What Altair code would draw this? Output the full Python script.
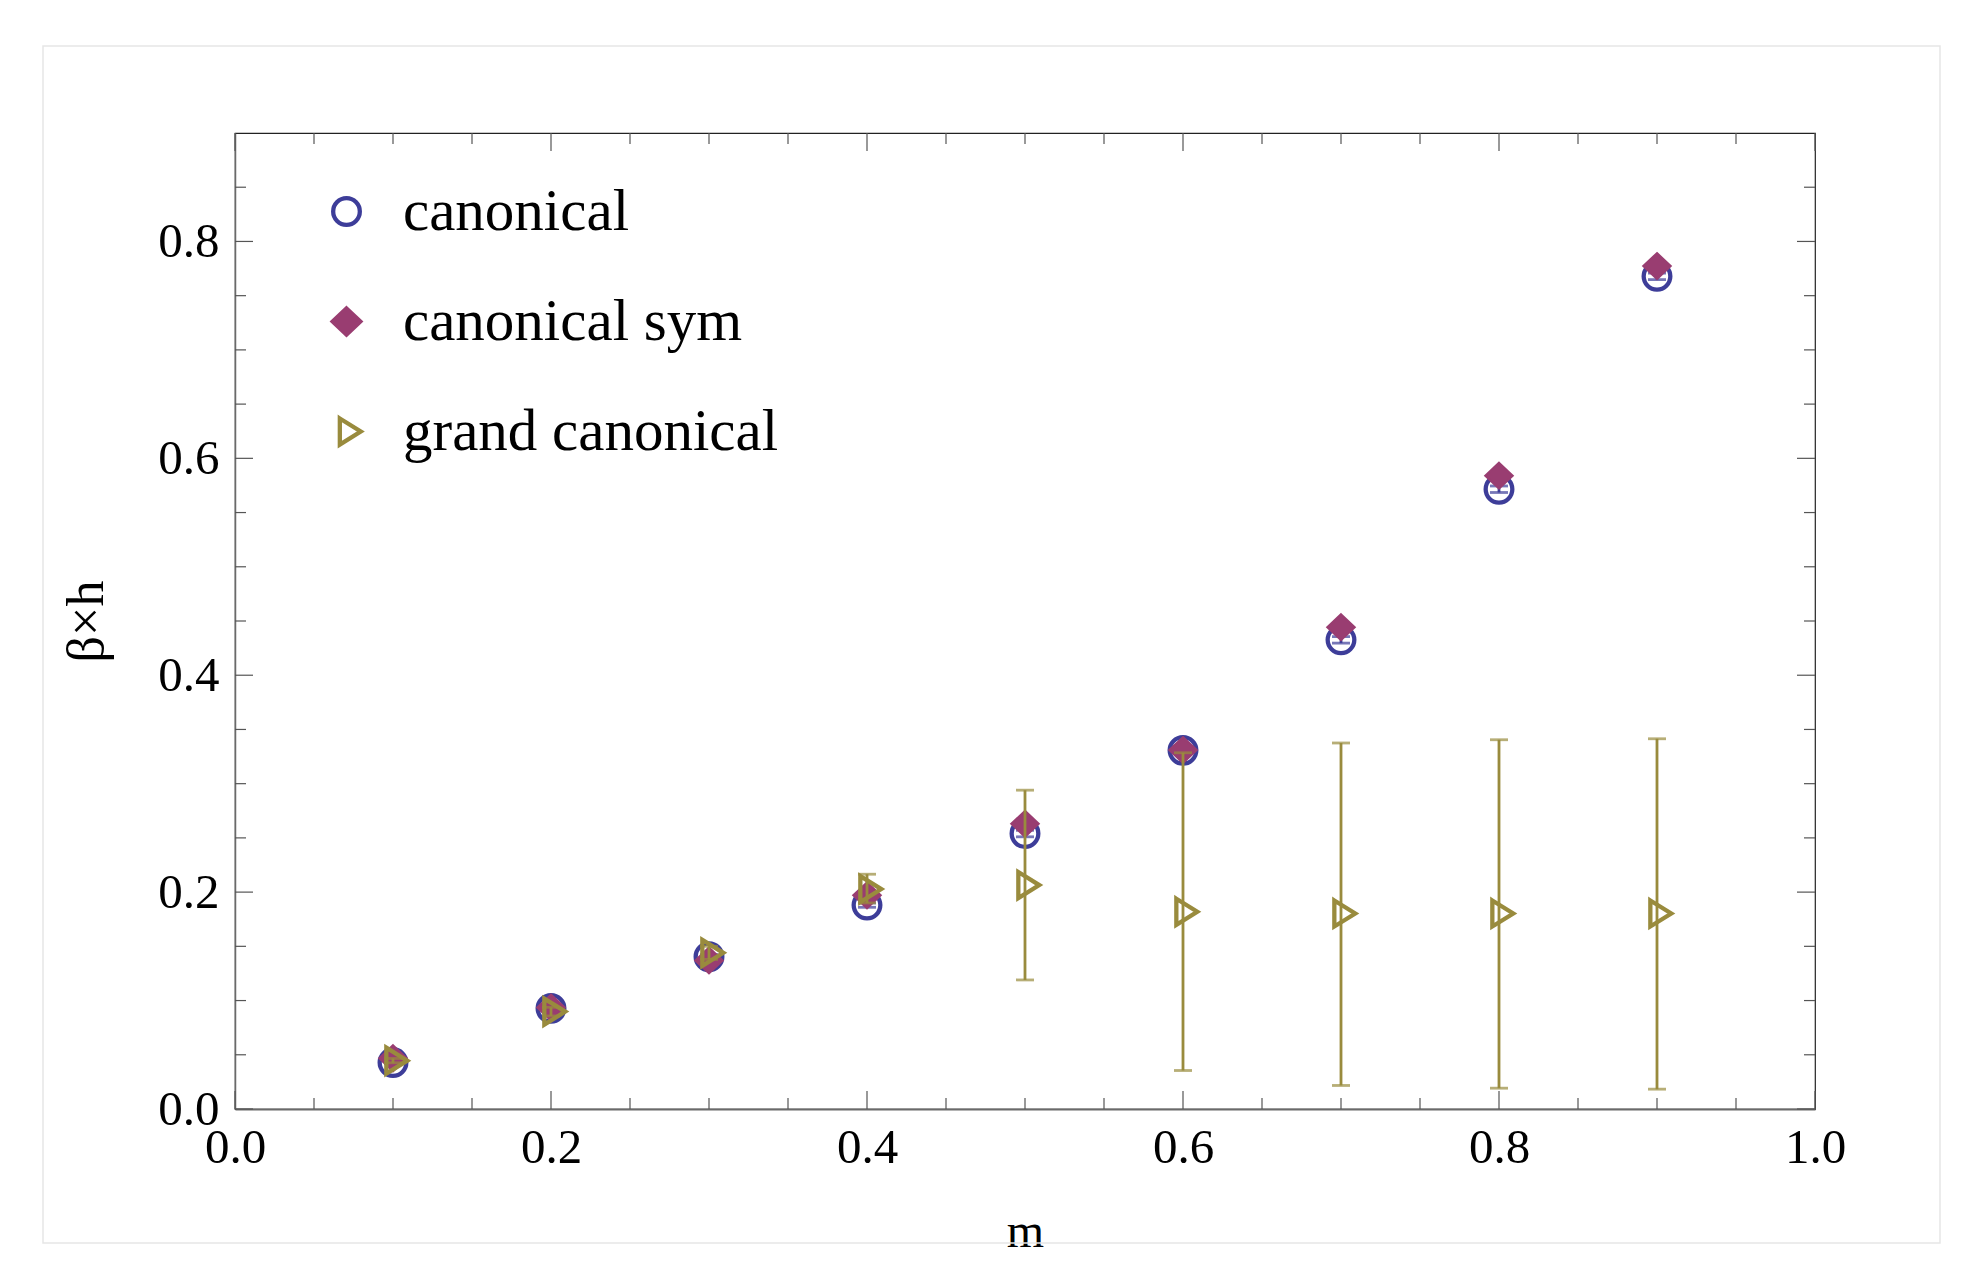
import altair as alt
import pandas as pd

# ---------------- data ----------------
m_vals = [0.1, 0.2, 0.3, 0.4, 0.5, 0.6, 0.7, 0.8, 0.9]
canonical = [0.0428, 0.0928, 0.1404, 0.188, 0.254, 0.3307, 0.4326, 0.5715, 0.7678]
canonical_err = [0.001, 0.002, 0.002, 0.002, 0.003, 0.003, 0.003, 0.003, 0.003]
canonical_sym = [0.0468, 0.0935, 0.137, 0.197, 0.263, 0.331, 0.4443, 0.584, 0.7773]
grand = [0.0446, 0.0898, 0.144, 0.2028, 0.2065, 0.1819, 0.1803, 0.1803, 0.1803]
grand_lo = [0.0426, 0.0858, 0.138, 0.190, 0.119, 0.0355, 0.0217, 0.0192, 0.0183]
grand_hi = [0.0466, 0.0938, 0.150, 0.2165, 0.294, 0.3285, 0.3375, 0.3405, 0.3414]

series_names = ["canonical", "canonical sym", "grand canonical"]
series_colors = ["#3d3d99", "#993d71", "#998b3d"]
series_fills = ["transparent", "#993d71", "transparent"]

x_major = [0.0, 0.2, 0.4, 0.6, 0.8, 1.0]
x_minor = [0.05, 0.1, 0.15, 0.25, 0.3, 0.35, 0.45, 0.5, 0.55, 0.65, 0.7, 0.75, 0.85, 0.9, 0.95]
y_major = [0.0, 0.2, 0.4, 0.6, 0.8]
y_minor = [0.05, 0.1, 0.15, 0.25, 0.3, 0.35, 0.45, 0.5, 0.55, 0.65, 0.7, 0.75, 0.85]

# ---------------- styling ----------------
W, H = 1580, 976
FONT = "Liberation Serif"
TICK = "#555555"
MAJ, MIN = 18, 11
SW = 4.3

circle_path = "M0.86,0A0.86,0.86,0,1,1,-0.86,0A0.86,0.86,0,1,1,0.86,0Z"
diamond_path = "M0,-0.84L0.89,0L0,0.84L-0.89,0Z"
tri_path = "M-0.43,-0.84L0.92,0L-0.43,0.84Z"
series_shapes = [circle_path, diamond_path, tri_path]

xscale = alt.Scale(domain=[0, 1], nice=False, zero=False)
yscale = alt.Scale(domain=[0, 0.9], nice=False, zero=False)

AX = alt.Axis(values=x_major, format=".1f", title="m", ticks=False, tickSize=0,
              grid=False, labelPadding=14, titlePadding=36,
              labelFlush=False, labelOverlap=False,
              domainColor="#6a6a6a", domainWidth=2)
AY = alt.Axis(values=y_major, format=".1f", title="β×h", ticks=False, tickSize=0,
              grid=False, labelPadding=16, titlePadding=44, titleFontSize=52,
              labelFlush=False, labelOverlap=False,
              domainColor="#6a6a6a", domainWidth=1.5)

df_c = pd.DataFrame({"m": m_vals, "v": canonical, "series": series_names[0],
                     "lo": [a - e for a, e in zip(canonical, canonical_err)],
                     "hi": [a + e for a, e in zip(canonical, canonical_err)]})
df_s = pd.DataFrame({"m": m_vals, "v": canonical_sym, "series": series_names[1]})
df_g = pd.DataFrame({"m": m_vals, "v": grand, "series": series_names[2],
                     "lo": grand_lo, "hi": grand_hi})

leg = alt.Legend(title=None)
stroke_enc = alt.Stroke("series:N", scale=alt.Scale(domain=series_names, range=series_colors), legend=leg)
fill_enc = alt.Fill("series:N", scale=alt.Scale(domain=series_names, range=series_fills), legend=leg)
shape_enc = alt.Shape("series:N", scale=alt.Scale(domain=series_names, range=series_shapes), legend=leg)


def xf(field):
    return alt.X(field, type="quantitative", scale=xscale, axis=AX)


def yf(field):
    return alt.Y(field, type="quantitative", scale=yscale, axis=AY)


def pts(df, sw):
    return alt.Chart(df).mark_point(size=961, strokeWidth=sw, opacity=1, fillOpacity=1,
                                    strokeOpacity=1).encode(
        x=xf("m"), y=yf("v"), stroke=stroke_enc, fill=fill_enc, shape=shape_enc)


def errbars(df, color, cap):
    bar = alt.Chart(df).mark_rule(color=color, strokeWidth=2.8).encode(
        x=xf("m"), y=yf("lo"), y2="hi:Q")
    lo = alt.Chart(df).mark_tick(color=color, orient="horizontal", size=cap, thickness=2.8).encode(
        x=xf("m"), y=yf("lo"))
    hi = alt.Chart(df).mark_tick(color=color, orient="horizontal", size=cap, thickness=2.8).encode(
        x=xf("m"), y=yf("hi"))
    return bar + lo + hi


def tick_layers():
    layers = []
    for vals, ln in [(x_major, MAJ), (x_minor, MIN)]:
        d = pd.DataFrame({"t": vals})
        layers.append(alt.Chart(d).mark_rule(color=TICK, strokeWidth=1.2).encode(
            x=xf("t"), y=alt.value(H), y2=alt.value(H - ln)))
        layers.append(alt.Chart(d).mark_rule(color=TICK, strokeWidth=1.2).encode(
            x=xf("t"), y=alt.value(0), y2=alt.value(ln)))
    for vals, ln in [(y_major, MAJ), (y_minor, MIN)]:
        d = pd.DataFrame({"t": vals})
        layers.append(alt.Chart(d).mark_rule(color=TICK, strokeWidth=1.2).encode(
            y=yf("t"), x=alt.value(0), x2=alt.value(ln)))
        layers.append(alt.Chart(d).mark_rule(color=TICK, strokeWidth=1.2).encode(
            y=yf("t"), x=alt.value(W), x2=alt.value(W - ln)))
    return layers


panel = alt.Chart(pd.DataFrame({"a": [0]})).mark_rect(
    fill="white", fillOpacity=0, stroke="#e6e6e6", strokeWidth=1.5).encode(
    x=alt.value(-192), x2=alt.value(1705), y=alt.value(-87), y2=alt.value(1110))

chart = alt.layer(
    panel,
    *tick_layers(),
    errbars(df_c, series_colors[0], 18),
    pts(df_c, SW),
    pts(df_s, 2.0),
    errbars(df_g, series_colors[2], 18),
    pts(df_g, SW),
).properties(
    width=W, height=H,
    autosize=alt.AutoSizeParams(type="none"),
    padding={"left": 227, "top": 125, "right": 140, "bottom": 150},
    background="white",
).configure_view(
    stroke="#222222", strokeWidth=1.2
).configure_axis(
    labelFont=FONT, labelFontSize=49, labelColor="black",
    titleFont=FONT, titleFontSize=48, titleFontWeight="normal", titleColor="black",
).configure_legend(
    orient="none", legendX=82, legendY=49,
    labelFont=FONT, labelFontSize=59, labelColor="black", labelLimit=0,
    symbolSize=961, symbolStrokeWidth=SW, labelOffset=27, rowPadding=50,
    padding=0,
)

chart.save("out.html", embed_options={"renderer": "svg", "actions": False})
